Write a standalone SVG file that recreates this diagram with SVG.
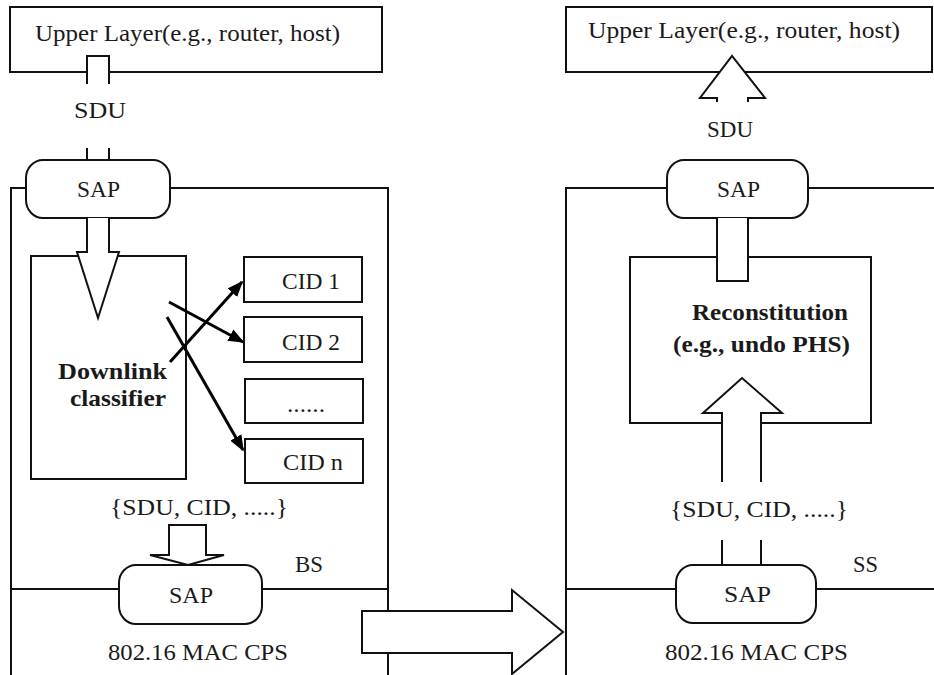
<svg xmlns="http://www.w3.org/2000/svg" width="934" height="675" viewBox="0 0 934 675">
<style>
.bx{fill:#fff;stroke:#111;stroke-width:2}
.ln{fill:none;stroke:#111;stroke-width:2}
.sap{fill:#fff;stroke:#111;stroke-width:2}
.ha{fill:#fff;stroke:#111;stroke-width:2;stroke-linejoin:miter}
.ba{fill:none;stroke:#000;stroke-width:3}
text{font-family:'Liberation Serif','Times New Roman',serif;font-size:23px;fill:#1a1a1a}
.b{font-weight:bold}
</style>
<defs>
<marker id="ah" viewBox="0 0 10 8" refX="9" refY="4" markerWidth="16" markerHeight="13" markerUnits="userSpaceOnUse" orient="auto">
<path d="M0,0 L10,4 L0,8 z" fill="#000"/>
</marker>
</defs>
<rect width="934" height="675" fill="#fff"/>

<!-- LEFT: BS -->
<g id="bs-box">
<rect class="bx" x="11" y="188" width="377" height="500"/>
<line class="ln" x1="11" y1="589" x2="388" y2="589"/>
<text x="295" y="572" textLength="28" lengthAdjust="spacingAndGlyphs">BS</text>
<text x="108" y="660" textLength="180" lengthAdjust="spacingAndGlyphs">802.16 MAC CPS</text>
</g>
<g id="upper-left">
<rect class="bx" x="10" y="7" width="372" height="65"/>
<text x="35" y="41" textLength="305" lengthAdjust="spacingAndGlyphs">Upper Layer(e.g., router, host)</text>
</g>
<g id="sap-left-top">
<rect class="sap" x="26" y="160" width="144" height="58" rx="17" ry="18"/>
<text x="77" y="197" textLength="43" lengthAdjust="spacingAndGlyphs">SAP</text>
</g>
<g id="classifier">
<rect class="bx" x="31" y="256" width="155" height="223"/>
<text class="b" x="58" y="379" textLength="109" lengthAdjust="spacingAndGlyphs">Downlink</text>
<text class="b" x="70" y="406" textLength="96" lengthAdjust="spacingAndGlyphs">classifier</text>
</g>
<g id="cid1">
<rect class="bx" x="244" y="257" width="118" height="45"/>
<text x="282" y="289" textLength="58" lengthAdjust="spacingAndGlyphs">CID 1</text>
</g>
<g id="cid2">
<rect class="bx" x="244" y="317" width="118" height="45"/>
<text x="282" y="350" textLength="58" lengthAdjust="spacingAndGlyphs">CID 2</text>
</g>
<g id="cid-dots">
<rect class="bx" x="245" y="379" width="118" height="44"/>
<text x="287" y="412" textLength="38" lengthAdjust="spacingAndGlyphs">......</text>
</g>
<g id="cidn">
<rect class="bx" x="245" y="439" width="118" height="44"/>
<text x="283" y="470" textLength="60" lengthAdjust="spacingAndGlyphs">CID n</text>
</g>
<g id="sap-left-bottom">
<rect class="sap" x="119" y="565" width="143" height="59" rx="17" ry="18"/>
<text x="169" y="603" textLength="44" lengthAdjust="spacingAndGlyphs">SAP</text>
</g>
<g id="label-left">
<text x="110" y="515" textLength="178" lengthAdjust="spacingAndGlyphs">{SDU, CID, .....}</text>
<text x="74" y="118" textLength="52" lengthAdjust="spacingAndGlyphs">SDU</text>
</g>

<!-- RIGHT: SS -->
<g id="ss-box">
<rect class="bx" x="566" y="188" width="380" height="500"/>
<line class="ln" x1="566" y1="589" x2="934" y2="589"/>
<text x="853" y="572" textLength="25" lengthAdjust="spacingAndGlyphs">SS</text>
<text x="665" y="660" textLength="183" lengthAdjust="spacingAndGlyphs">802.16 MAC CPS</text>
</g>
<g id="upper-right">
<rect class="bx" x="566" y="7" width="366" height="65"/>
<text x="588" y="38" textLength="312" lengthAdjust="spacingAndGlyphs">Upper Layer(e.g., router, host)</text>
</g>
<g id="sap-right-top">
<rect class="sap" x="667" y="160" width="141" height="58" rx="17" ry="18"/>
<text x="717" y="197" textLength="43" lengthAdjust="spacingAndGlyphs">SAP</text>
</g>
<g id="reconstitution">
<rect class="bx" x="630" y="257" width="241" height="166"/>
<text class="b" x="692" y="320" textLength="156" lengthAdjust="spacingAndGlyphs">Reconstitution</text>
<text class="b" x="673" y="352" textLength="177" lengthAdjust="spacingAndGlyphs">(e.g., undo PHS)</text>
</g>
<g id="sap-right-bottom">
<rect class="sap" x="676" y="565" width="140" height="58" rx="17" ry="18"/>
<text x="724" y="602" textLength="47" lengthAdjust="spacingAndGlyphs">SAP</text>
</g>
<g id="label-right">
<text x="670" y="517" textLength="178" lengthAdjust="spacingAndGlyphs">{SDU, CID, .....}</text>
<text x="707" y="137" textLength="46" lengthAdjust="spacingAndGlyphs">SDU</text>
</g>

<!-- CONNECTORS -->
<g id="connectors">
<path class="ha" d="M87,84 V56 H109 V84"/>
<path class="ln" d="M87,148 V160 M109,148 V160"/>
<path class="ha" d="M87,218 V252 H77 L98,318 L119,252 H109 V218"/>
<path class="ha" d="M169,525 V555 H150 L188,565 L224,555 H206 V525 Z"/>
<line class="ba" x1="169" y1="302" x2="243" y2="342" marker-end="url(#ah)"/>
<line class="ba" x1="167" y1="317" x2="243" y2="450" marker-end="url(#ah)"/>
<line class="ba" x1="170" y1="362" x2="242" y2="282" marker-end="url(#ah)"/>
<path class="ha" d="M362,611 H512 V590 L563,632 L512,674 V653 H362 Z"/>
<path class="ln" d="M722,540 V565 M761,540 V565"/>
<path class="ha" d="M722,482 V413 H703 L742,378 L782,413 H761 V482"/>
<path class="ha" d="M717,218 V281 H748 V218"/>
<path class="ha" d="M717,102 V98 H700 L732,56 L765,98 H748 V102"/>
</g>
</svg>
